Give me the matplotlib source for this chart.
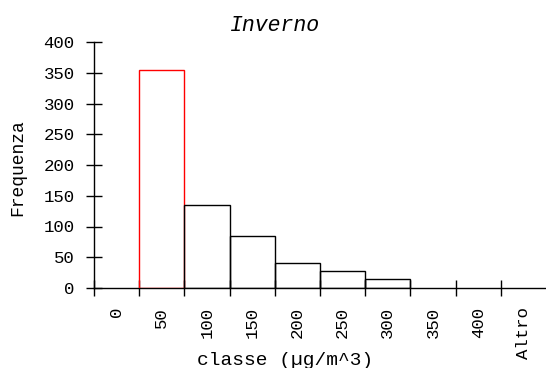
import matplotlib
matplotlib.use("Agg")
import matplotlib.pyplot as plt
import numpy as np

categories = ["0", "50", "100", "150", "200", "250", "300", "350", "400", "Altro"]
frequenze = [0, 355, 135, 85, 41, 28, 14, 0, 0, 0]
edge_colors = ["black", "red", "black", "black", "black", "black", "black", "black", "black", "black"]
y_ticks = [0, 50, 100, 150, 200, 250, 300, 350, 400]

FONT = "Liberation Mono"
FS = 12.5

fig = plt.figure(figsize=(5.46, 3.68), dpi=100)
W, H = 546, 368
ax = fig.add_axes([94 / W, (H - 288) / H, (W - 94) / W, (288 - 42) / H])

x = np.arange(len(categories))
for xi, val, ec in zip(x, frequenze, edge_colors):
    if val > 0:
        ax.bar(xi, val, width=1.0, facecolor="none", edgecolor=ec, linewidth=1.0, zorder=3)

ax.set_xlim(-0.5, len(categories) - 0.5)
ax.set_ylim(0, 400)

for s in ["top", "right"]:
    ax.spines[s].set_visible(False)
ax.spines["left"].set_linewidth(1.0)
ax.spines["bottom"].set_linewidth(1.0)

# Boundary ticks (unlabelled), category labels centred in each class
ax.set_xticks(np.arange(len(categories)) - 0.5)
ax.set_xticklabels([])
ax.set_xticks(x, minor=True)
ax.set_xticklabels(categories, minor=True, rotation=90, fontfamily=FONT, fontsize=FS)
ax.tick_params(axis="x", which="major", direction="inout", length=12, width=1.0)
ax.tick_params(axis="x", which="minor", length=0, pad=13.5)

ax.set_yticks(y_ticks)
ax.set_yticklabels([str(v) for v in y_ticks], fontfamily=FONT, fontsize=FS)
ax.tick_params(axis="y", direction="inout", length=12, width=1.0, pad=8)

# Title and axis labels placed on the figure
fig.text(275 / W, (H - 31) / H, "Inverno", fontfamily=FONT, fontstyle="italic",
         fontsize=15.5, ha="center", va="baseline")
fig.text(18 / W, (H - 168) / H, "Frequenza", fontfamily=FONT, fontsize=13,
         rotation=90, ha="center", va="center")
fig.text(285 / W, (H - 365) / H, "classe (µg/m^3)", fontfamily=FONT, fontsize=14,
         ha="center", va="baseline")

fig.savefig("out.png", dpi=100)
